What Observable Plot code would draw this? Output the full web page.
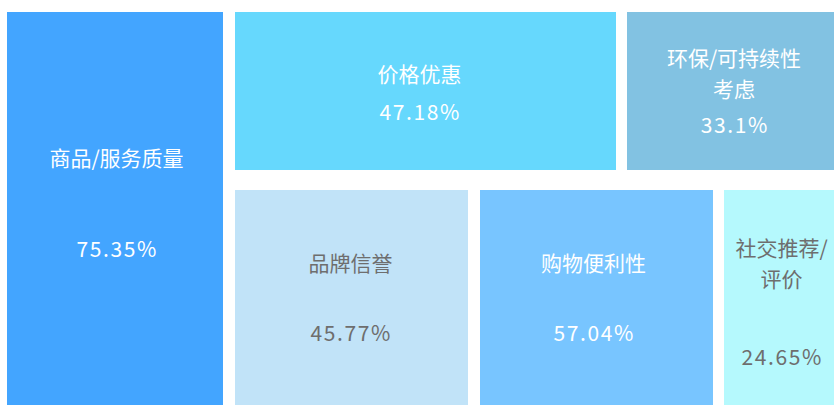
<!DOCTYPE html>
<html>
<head>
<meta charset="utf-8">
<script src="https://cdn.jsdelivr.net/npm/d3@7"></script>
<script src="https://cdn.jsdelivr.net/npm/@observablehq/plot@0.6"></script>
<style>
  html, body { margin: 0; padding: 0; background: #ffffff; overflow: hidden; }
  #chart svg { display: block; overflow: hidden; }
  #chart .value-label text { letter-spacing: 1.6px; }
</style>
</head>
<body>
<div id="chart"></div>
<script>
// ---- data ----
const categories = ["商品/服务质量", "价格优惠", "环保/可持续性考虑", "品牌信誉", "购物便利性", "社交推荐/评价"];
const displayNames = ["商品/服务质量", "价格优惠", "环保/可持续性\n考虑", "品牌信誉", "购物便利性", "社交推荐/\n评价"];
const values = [75.35, 47.18, 33.1, 45.77, 57.04, 24.65];
const valueLabels = ["75.35%", "47.18%", "33.1%", "45.77%", "57.04%", "24.65%"];

// ---- styles ----
const tileColors = ["#43a5ff", "#66d8fd", "#82c2e2", "#c1e3f8", "#78c5ff", "#b5f9fd"];
const textColors = ["#ffffff", "#ffffff", "#ffffff", "#6e6e6e", "#ffffff", "#6e6e6e"];

// ---- treemap layout (tile boxes and label anchors, as rendered in the cropped view) ----
const layout = [
  {x1: 7,   x2: 223, y1: 12,  y2: 430, labelX: 116,   nameY: 156,   valueY: 250},
  {x1: 235, x2: 616, y1: 12,  y2: 170, labelX: 419,   nameY: 72,    valueY: 112.5},
  {x1: 627, x2: 845, y1: 12,  y2: 170, labelX: 733.5, nameY: 71,    valueY: 126},
  {x1: 235, x2: 468, y1: 190, y2: 430, labelX: 350,   nameY: 261,   valueY: 334},
  {x1: 480, x2: 713, y1: 190, y2: 430, labelX: 593,   nameY: 261,   valueY: 334},
  {x1: 724, x2: 845, y1: 190, y2: 430, labelX: 781,   nameY: 261,   valueY: 358}
];

const table = categories.map((c, i) => ({
  category: c,
  name: displayNames[i],
  value: values[i],
  label: valueLabels[i],
  fill: tileColors[i],
  color: textColors[i],
  ...layout[i]
}));

const W = 834, H = 405;
const cjkFont = "'Noto Sans CJK SC', 'Noto Sans', sans-serif";

const chart = Plot.plot({
  width: W,
  height: H,
  margin: 0,
  style: {background: "#ffffff", fontFamily: cjkFont},
  x: {domain: [0, W], range: [0, W], axis: null},
  y: {domain: [0, H], range: [0, H], axis: null},
  marks: [
    Plot.rect(table, {x1: "x1", x2: "x2", y1: "y1", y2: "y2", fill: "fill", title: "category"}),
    Plot.text(table, {x: "labelX", y: "nameY", text: "name", fill: "color", fontSize: 21, lineHeight: 1.48, fontFamily: cjkFont}),
    Plot.text(table, {x: "labelX", y: "valueY", text: "label", fill: "color", fontSize: 21, fontFamily: cjkFont, className: "value-label", dx: 0.8})
  ]
});
document.getElementById("chart").appendChild(chart);
</script>
</body>
</html>
